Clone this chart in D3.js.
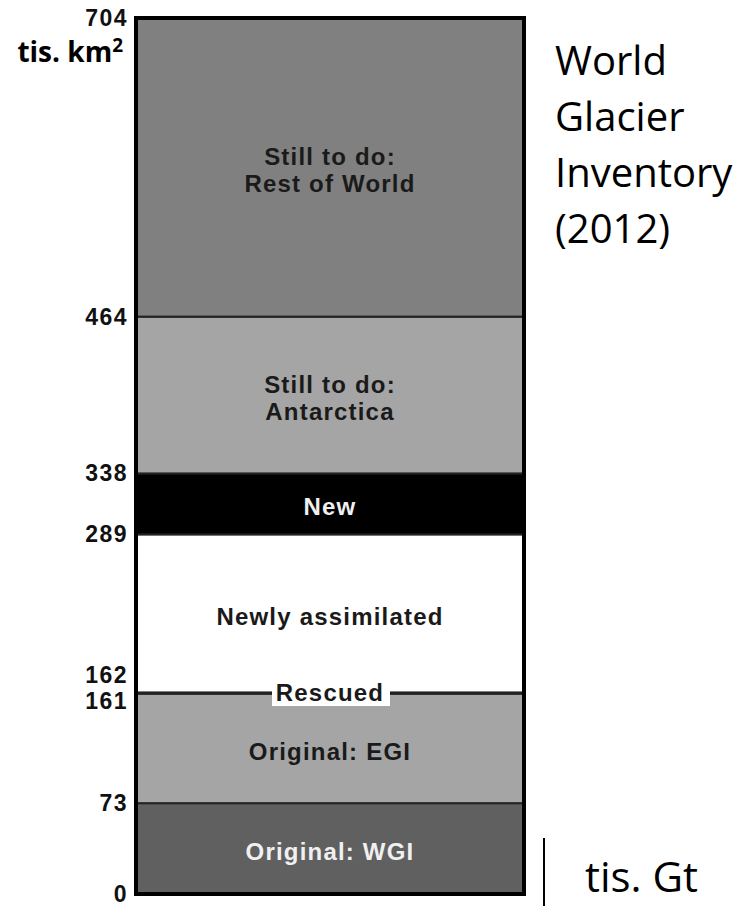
<!DOCTYPE html>
<html>
<head>
<meta charset="utf-8">
<script src="https://cdn.jsdelivr.net/npm/d3@7"></script>
<style>
body { margin: 0; background: #fff; }
</style>
</head>
<body>
<svg id="chart" width="744" height="908"></svg>
<script>
// segments from bottom to top
var labels = [["Original: WGI"], ["Original: EGI"], ["Rescued"], ["Newly assimilated"], ["New"], ["Still to do:", "Antarctica"], ["Still to do:", "Rest of World"]];
var lower = [0, 73, 161, 162, 289, 338, 464];
var upper = [73, 161, 162, 289, 338, 464, 704];
var fills = ["#606060", "#a5a5a5", "#000", "#fff", "#000", "#a5a5a5", "#808080"];
var tickValues = [0, 73, 161, 162, 289, 338, 464, 704];

var svg = d3.select("#chart"),
    left = 136,
    right = 524,
    font = "Liberation Sans, Arial, sans-serif";

var y = d3.scaleLinear().domain([0, 704]).range([894, 18]);

var segs = labels.map(function(l, i) {
    return { label: l, lo: lower[i], hi: upper[i], fill: fills[i] };
});

svg.selectAll(".seg")
   .data(segs)
   .enter().append("rect")
   .attr("class", "seg")
   .attr("x", left)
   .attr("width", right - left)
   .attr("y", function(d) { return y(d.hi); })
   .attr("height", function(d) { return y(d.lo) - y(d.hi); })
   .attr("fill", function(d) { return d.fill; })
   .attr("stroke", "#222")
   .attr("stroke-width", 2);

// labels inside the bar (skip the thin Rescued one)
var txt = svg.selectAll(".lab")
   .data(segs.filter(function(d) { return d.label[0] != "Rescued"; }))
   .enter().append("text")
   .attr("class", "lab")
   .attr("x", (left + right) / 2)
   .attr("y", function(d) { return (y(d.lo) + y(d.hi)) / 2 + 3 - (d.label.length - 1) * 13.5; })
   .attr("text-anchor", "middle")
   .attr("font-family", font)
   .attr("font-weight", "bold")
   .attr("font-size", 24)
   .attr("letter-spacing", 1.2)
   .attr("fill", function(d) { return d.fill == "#000" || d.fill == "#606060" ? "#f0f0f0" : "#1a1a1a"; });

txt.selectAll("tspan")
   .data(function(d) { return d.label; })
   .enter().append("tspan")
   .attr("x", (left + right) / 2)
   .attr("dy", function(d, i) { return i == 0 ? "0.35em" : 27; })
   .text(function(d) { return d; });

// Rescued label with white box
var resc = svg.append("g")
   .attr("transform", "translate(" + (left + right) / 2 + "," + y(161.5) + ")");
resc.append("rect")
   .attr("x", -58).attr("y", -13)
   .attr("width", 118).attr("height", 26)
   .attr("fill", "#fff");
resc.append("text")
   .attr("text-anchor", "middle")
   .attr("dy", "0.35em")
   .attr("font-family", font)
   .attr("font-weight", "bold")
   .attr("font-size", 24)
   .attr("letter-spacing", 1.2)
   .attr("fill", "#1a1a1a")
   .text("Rescued");

// outer frame
svg.append("rect")
   .attr("x", left)
   .attr("y", y(704))
   .attr("width", right - left)
   .attr("height", y(0) - y(704))
   .attr("fill", "none")
   .attr("stroke", "#000")
   .attr("stroke-width", 4);

// tick labels
svg.selectAll(".tick")
   .data(tickValues)
   .enter().append("text")
   .attr("class", "tick")
   .attr("x", 128)
   .attr("y", function(d) {
        var off = d == 162 ? -17 : (d == 161 ? 7 : 0);
        return y(d) + off;
    })
   .attr("dy", "0.35em")
   .attr("text-anchor", "end")
   .attr("font-family", font)
   .attr("font-weight", "bold")
   .attr("font-size", 23)
   .attr("letter-spacing", 1.5)
   .attr("fill", "#111")
   .text(function(d) { return d; });

var unit = svg.append("text")
   .attr("x", 123)
   .attr("y", 62)
   .attr("text-anchor", "end")
   .attr("font-family", "Open Sans, sans-serif")
   .attr("font-weight", "bold")
   .attr("font-size", 28);
unit.append("tspan").text("tis. km");
unit.append("tspan").attr("font-size", 19).attr("dy", -10).text("2");

// title on the right
svg.append("text")
   .attr("font-family", "Open Sans, sans-serif")
   .attr("font-size", 40)
   .attr("fill", "#000")
   .selectAll("tspan")
   .data(["World", "Glacier", "Inventory", "(2012)"])
   .enter().append("tspan")
   .attr("x", 555)
   .attr("y", function(d, i) { return 75 + i * 56; })
   .text(function(d) { return d; });

svg.append("line")
   .attr("x1", 544).attr("x2", 544)
   .attr("y1", 838).attr("y2", 906)
   .attr("stroke", "#000")
   .attr("stroke-width", 2);

svg.append("text")
   .attr("x", 585)
   .attr("y", 892)
   .attr("font-family", "Open Sans, sans-serif")
   .attr("font-size", 42)
   .text("tis. Gt");
</script>
</body>
</html>
